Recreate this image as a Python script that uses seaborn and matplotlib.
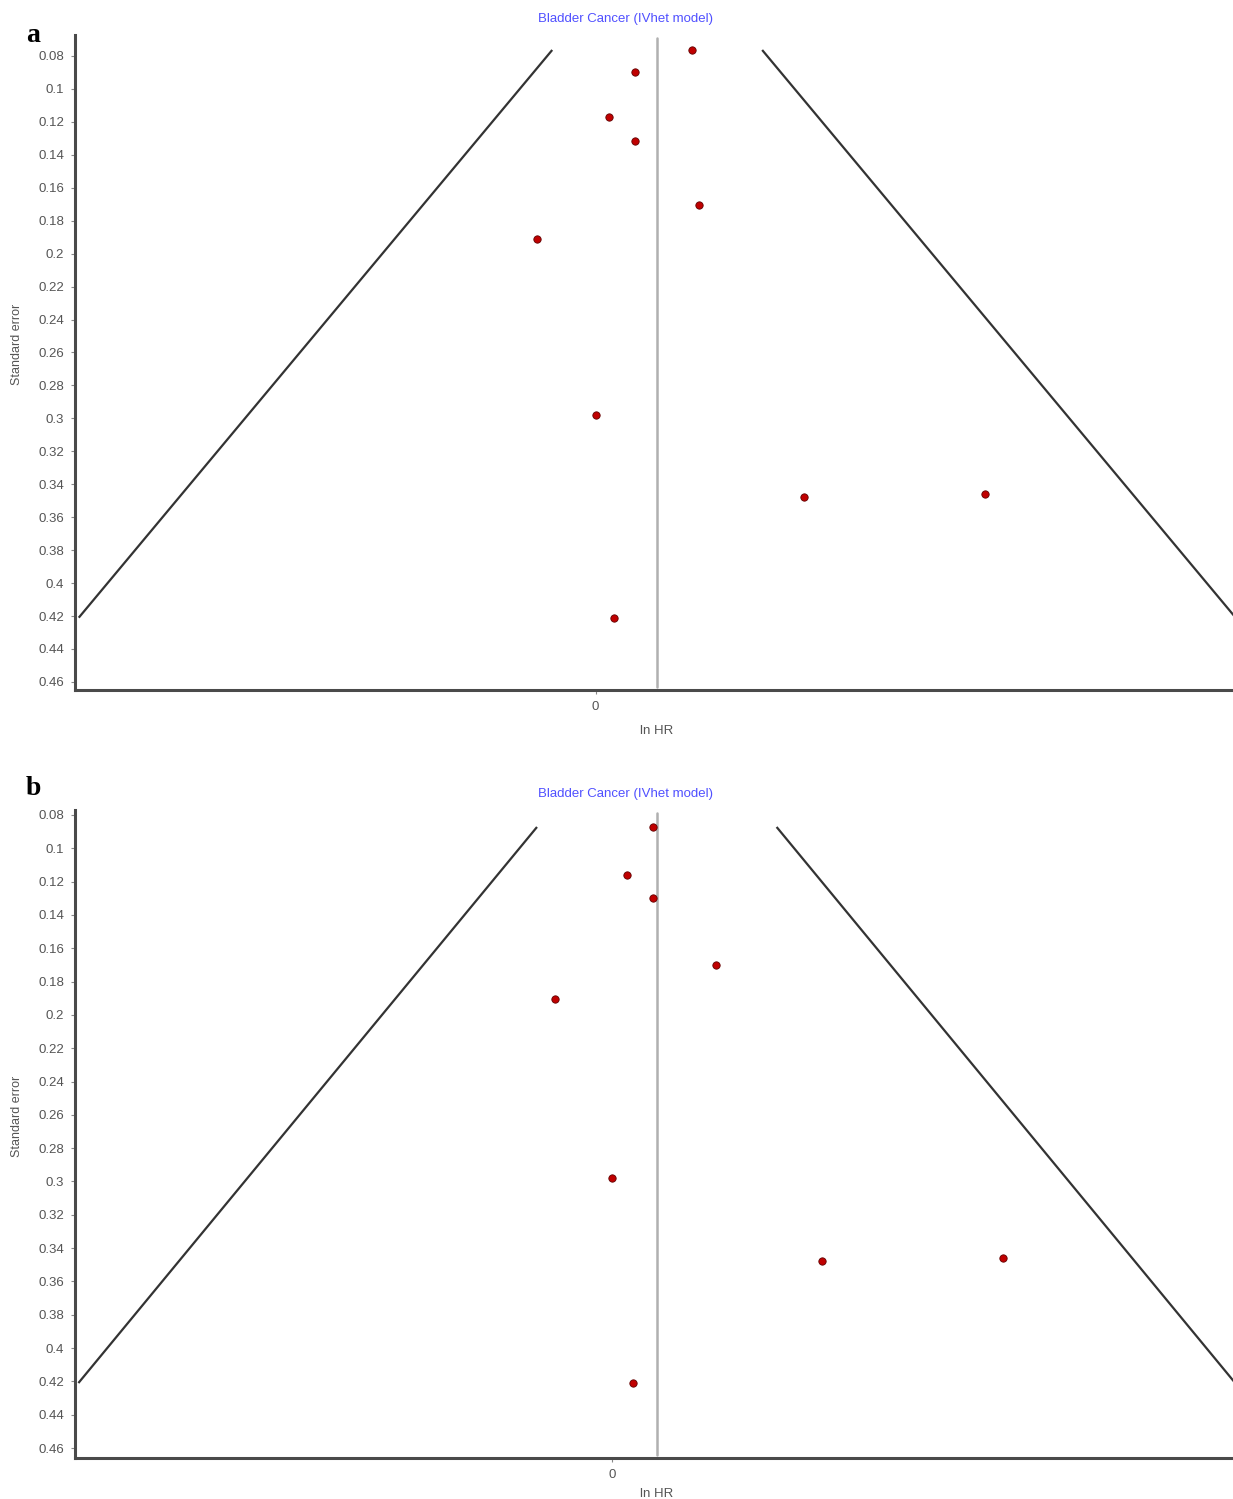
import numpy as np
import pandas as pd
import matplotlib
matplotlib.use("Agg")
import matplotlib.pyplot as plt
import seaborn as sns

# study estimates
lnhr_a = [0.137, 0.057, 0.019, 0.057, 0.147, -0.084, 0.000, 0.298, 0.556, 0.027]
se_a   = [0.0764, 0.0897, 0.117, 0.1316, 0.1704, 0.191, 0.298, 0.3477, 0.3459, 0.421]
pooled_a = 0.088

lnhr_b = [0.058, 0.021, 0.058, 0.148, -0.081, 0.000, 0.300, 0.558, 0.030]
se_b   = [0.0872, 0.116, 0.1299, 0.170, 0.1905, 0.298, 0.348, 0.3459, 0.421]
pooled_b = 0.064

se_ticks = [round(0.08 + 0.02 * i, 2) for i in range(20)]
title = "Bladder Cancer (IVhet model)"

sns.set_theme(style="white")
plt.rcParams["font.family"] = ["Liberation Sans", "DejaVu Sans"]

W, H = 1233, 1499
fig = plt.figure(figsize=(W / 100, H / 100), dpi=100)


def px_axes(l, t, r, b):
    return fig.add_axes([l / W, 1 - b / H, (r - l) / W, (b - t) / H])


def funnel(ax, lnhr, se, pooled, xlim, ylim, tag, tag_y, xlab_y):
    df = pd.DataFrame({"lnhr": lnhr, "se": se})
    se_rng = np.array([df.se.min(), df.se.max()])
    ax.plot(pooled - 1.96 * se_rng, se_rng, color="#333333", lw=1.6,
            solid_capstyle="butt")
    ax.plot(pooled + 1.96 * se_rng, se_rng, color="#333333", lw=1.6,
            solid_capstyle="butt")
    ax.axvline(pooled, ymin=0.005, ymax=0.995, color="#b0b0b0", lw=1.8)
    sns.scatterplot(data=df, x="lnhr", y="se", ax=ax, color="#c00000",
                    edgecolor="#600000", linewidth=0.6, s=28, zorder=5)
    ax.set_xlim(*xlim)
    ax.set_ylim(*ylim)
    ax.set_yticks(se_ticks)
    ax.set_yticklabels([f"{v:g}" for v in se_ticks])
    ax.set_xticks([0])
    ax.set_xticklabels(["0"])
    ax.tick_params(axis="both", labelsize=9.5, labelcolor="#555555",
                   color="#888888", length=3, width=0.8, pad=5,
                   left=True, bottom=True)
    for s in ["top", "right"]:
        ax.spines[s].set_visible(False)
    for s in ["left", "bottom"]:
        ax.spines[s].set_color("#4a4a4a")
        ax.spines[s].set_linewidth(2.2)
    ax.set_ylabel("Standard error", fontsize=9, color="#555555")
    ax.set_xlabel("ln HR", fontsize=9.5, color="#555555")
    ax.yaxis.set_label_coords(-0.045, 0.527)
    ax.xaxis.set_label_coords(0.5026, xlab_y)
    ax.text(0.475, 1.024, title, transform=ax.transAxes, ha="center",
            va="center", fontsize=9.5, color="#5050ff")
    ax.text(-0.036, tag_y, tag, transform=ax.transAxes, ha="center",
            va="center", fontsize=20, fontweight="bold",
            family=["Liberation Serif", "DejaVu Serif"], color="black")


ax_a = px_axes(75, 35, 1233, 690)
funnel(ax_a, lnhr_a, se_a, pooled_a, (-0.7425, 0.9094), (0.4649, 0.0673),
       "a", 1.0, -0.053)

ax_b = px_axes(75, 810, 1233, 1458)
funnel(ax_b, lnhr_b, se_b, pooled_b, (-0.766, 0.886), (0.466, 0.077),
       "b", 1.033, -0.046)

fig.savefig("out.png", dpi=100)
